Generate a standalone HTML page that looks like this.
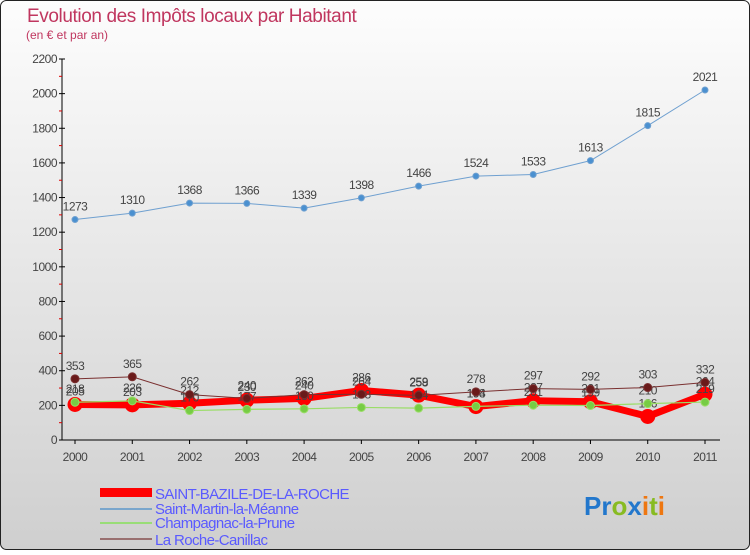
<!DOCTYPE html>
<html><head><meta charset="utf-8"><style>
body{margin:0;width:750px;height:550px;overflow:hidden;font-family:"Liberation Sans",sans-serif}
</style></head><body>
<svg id="chart" width="750" height="550" xmlns="http://www.w3.org/2000/svg">
<defs><linearGradient id="bg" x1="0" y1="0" x2="0" y2="1"><stop offset="0" stop-color="#fdfdfd"/><stop offset="1" stop-color="#cfcfcf"/></linearGradient></defs>
<rect x="0.5" y="0.5" width="749" height="549" rx="6" fill="url(#bg)" stroke="#222"/>
<text x="27" y="22" font-size="19" fill="#c0365f" letter-spacing="-0.4">Evolution des Impôts locaux par Habitant</text>
<text x="26" y="39" font-size="12" fill="#c0365f">(en € et par an)</text>
<g id="axes"></g><g id="series"></g>
<g font-size="15" fill="#5a5aff" letter-spacing="-0.6">
<rect x="100" y="488" width="52" height="9" fill="#f00"/>
<text x="155" y="499">SAINT-BAZILE-DE-LA-ROCHE</text>
<line x1="100" y1="509" x2="152" y2="509" stroke="#7aa6cc" stroke-width="2"/>
<text x="155" y="514">Saint-Martin-la-Méanne</text>
<line x1="100" y1="523" x2="152" y2="523" stroke="#99dd77" stroke-width="2"/>
<text x="155" y="528">Champagnac-la-Prune</text>
<line x1="100" y1="539" x2="152" y2="539" stroke="#997070" stroke-width="2"/>
<text x="155" y="545">La Roche-Canillac</text>
</g>
<text x="584" y="515" font-size="26" font-weight="bold"><tspan fill="#2277cc">Pr</tspan><tspan fill="#88bb22">o</tspan><tspan fill="#2277cc">x</tspan><tspan fill="#ee7711">i</tspan><tspan fill="#88bb22">t</tspan><tspan fill="#ee7711">i</tspan></text>
</svg>
<script>
const years=["2000","2001","2002","2003","2004","2005","2006","2007","2008","2009","2010","2011"];
const yTicks=[0,200,400,600,800,1000,1200,1400,1600,1800,2000,2200];
const saintBazile=[205,203,212,230,240,286,259,193,227,221,136,264];
const saintMartin=[1273,1310,1368,1366,1339,1398,1466,1524,1533,1613,1815,2021];
const champagnac=[218,226,170,177,180,188,184,194,201,199,210,219];
const laRoche=[353,365,262,240,262,264,258,278,297,292,303,332];
const NS="http://www.w3.org/2000/svg";
const xS=i=>75+i*(630/11), yS=v=>440-v*(381/2200);
function mk(p,t,a){const e=document.createElementNS(NS,t);for(const k in a)e.setAttribute(k,a[k]);p.appendChild(e);return e;}
const ax=document.getElementById('axes');
const yl=mk(ax,'line',{x1:62,y1:yS(2200),x2:62,y2:440,stroke:'#000'});

const xl=mk(ax,'line',{x1:62,y1:440,x2:720,y2:440,stroke:'#000'});

yTicks.forEach(v=>{
 mk(ax,'line',{x1:59,y1:yS(v),x2:65,y2:yS(v),stroke:'#000'});
 const t=mk(ax,'text',{x:57,y:yS(v)+4,'font-size':12,fill:'#444','text-anchor':'end','letter-spacing':'-0.5'});
 t.textContent=v;
 if(v<2200) mk(ax,'line',{x1:59,y1:yS(v+100),x2:62,y2:yS(v+100),stroke:'#d00'});
});
years.forEach((y,i)=>{
 mk(ax,'line',{x1:xS(i),y1:440,x2:xS(i),y2:444,stroke:'#000'});
 const t=mk(ax,'text',{x:xS(i),y:461,'font-size':12,fill:'#444','text-anchor':'middle','letter-spacing':'-0.5'});
 t.textContent=y;
});
const sg=document.getElementById('series');
function draw(name,vals,col,w,r,dot,lblDy){
 const g=mk(sg,'g',{});
 
 mk(g,'polyline',{points:vals.map((v,i)=>xS(i)+','+yS(v)).join(' '),fill:'none',stroke:col,'stroke-width':w,'stroke-linejoin':'round'});
 vals.forEach((v,i)=>{
  const c=mk(g,'circle',{cx:xS(i),cy:yS(v),r:r,fill:dot,stroke:col,'stroke-width':1});
  
  const t=mk(g,'text',{x:xS(i),y:yS(v)+lblDy,'font-size':12,fill:'#444','text-anchor':'middle','letter-spacing':'-0.5'});
  t.textContent=v;
 });
}
draw('saint-martin',saintMartin,'#6fa0d0',1,3,'#4a90d0',-9);
draw('saint-bazile',saintBazile,'#f00',7,7,'#f00',-9);
draw('champagnac',champagnac,'#99dd66',1.2,4,'#77cc44',-9);
draw('la-roche',laRoche,'#7a3030',1,4,'#6a1a1a',-9);
</script>
</body></html>
